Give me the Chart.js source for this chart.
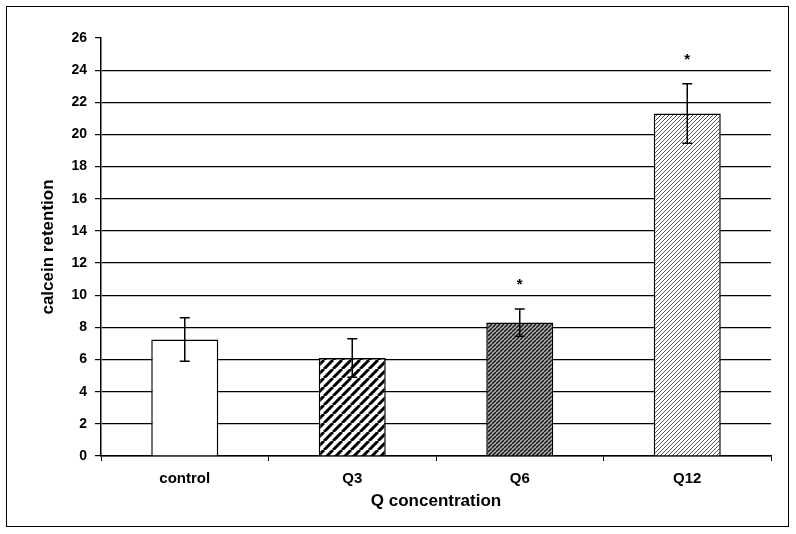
<!DOCTYPE html>
<html lang="en">
<head>
    <meta charset="UTF-8">
    <title>calcein retention</title>
    <style type="text/css">
        html, body { margin: 0; padding: 0; background: #fff; }
        .chartBox { width: 796px; height: 534px; }
    </style>
</head>
<body>
    <div class="chartBox">
        <canvas id="myChart" width="796" height="534"></canvas>
    </div>

    <script src="https://cdn.jsdelivr.net/npm/chart.js"></script>

    <script>
        const categories = ['control', 'Q3', 'Q6', 'Q12'];
        const retention = [7.25, 6.1, 8.3, 21.3];
        const errors = [1.35, 1.2, 0.85, 1.85];
        const marks = ['', '', '*', '*'];

        const FONT = '"Liberation Sans", Arial, sans-serif';

        // diagonal "/" stripe fills
        function stripes(size, lineW, color, bg) {
          const c = document.createElement('canvas');
          c.width = size; c.height = size;
          const g = c.getContext('2d');
          g.fillStyle = bg;
          g.fillRect(0, 0, size, size);
          g.strokeStyle = color;
          g.lineWidth = lineW;
          g.beginPath();
          for (let k = -1; k <= 1; k++) {
            g.moveTo(k * size, size);
            g.lineTo(k * size + size, 0);
          }
          g.stroke();
          return g.createPattern(c, 'repeat');
        }

        const ctx = document.getElementById('myChart');
        const fills = [
          '#ffffff',
          stripes(9, 3, '#000000', '#ffffff'),
          stripes(4, 1.6, '#222222', '#bbbbbb'),
          stripes(4, 1, '#555555', '#ffffff')
        ];

        const extras = {
          id: 'extras',
          afterDatasetsDraw(chart) {
            const c = chart.ctx;
            const x = chart.scales.x, y = chart.scales.y;
            c.save();
            c.strokeStyle = '#000';
            c.lineWidth = 1.5;
            retention.forEach((v, i) => {
              const px = x.getPixelForValue(i);
              const top = y.getPixelForValue(v + errors[i]);
              const bot = y.getPixelForValue(v - errors[i]);
              c.beginPath();
              c.moveTo(px, top); c.lineTo(px, bot);
              c.moveTo(px - 5, top); c.lineTo(px + 5, top);
              c.moveTo(px - 5, bot); c.lineTo(px + 5, bot);
              c.stroke();
              if (marks[i]) {
                c.fillStyle = '#000';
                c.font = 'bold 15px ' + FONT;
                c.textAlign = 'center';
                c.textBaseline = 'middle';
                c.fillText(marks[i], px, top - 24);
              }
            });
            // outer frame
            c.lineWidth = 1;
            c.strokeStyle = '#000';
            c.strokeRect(6.5, 6.5, 782, 520);
            c.restore();
          }
        };

        new Chart(ctx, {
          type: 'bar',
          data: {
            labels: categories,
            datasets: [{
              data: retention,
              backgroundColor: fills,
              borderColor: '#000',
              borderWidth: 1.5,
              barPercentage: 0.4,
              categoryPercentage: 1.0
            }]
          },
          options: {
            responsive: false,
            animation: false,
            layout: { padding: { left: 34, right: 25, top: 38, bottom: 18 } },
            plugins: {
              legend: { display: false },
              tooltip: { enabled: false }
            },
            scales: {
              x: {
                afterFit: s => { s.height = 60; },
                grid: {
                  offset: true,
                  drawOnChartArea: false,
                  tickLength: 5,
                  color: '#000'
                },
                border: { color: '#000', width: 1.5 },
                ticks: {
                  autoSkip: false,
                  maxRotation: 0,
                  color: '#000',
                  font: { family: FONT, size: 15, weight: 'bold' },
                  padding: 9
                },
                title: {
                  display: true,
                  text: 'Q concentration',
                  color: '#000',
                  font: { family: FONT, size: 17, weight: 'bold' },
                  padding: { top: 0 }
                }
              },
              y: {
                min: 0,
                max: 26,
                afterFit: s => { s.width = 67; },
                grid: {
                  color: c => (c.tick && c.tick.value === 26) ? 'rgba(0,0,0,0)' : '#000',
                  lineWidth: 1.2,
                  tickLength: 6,
                  tickColor: '#000'
                },
                border: { color: '#000', width: 1.5 },
                ticks: {
                  autoSkip: false,
                  stepSize: 2,
                  color: '#000',
                  padding: 8,
                  font: { family: FONT, size: 14, weight: 'bold' }
                },
                title: {
                  display: true,
                  text: 'calcein retention',
                  color: '#000',
                  font: { family: FONT, size: 17, weight: 'bold' },
                  padding: { top: 4, bottom: 4 }
                }
              }
            }
          },
          plugins: [extras]
        });
      </script>
</body>
</html>
